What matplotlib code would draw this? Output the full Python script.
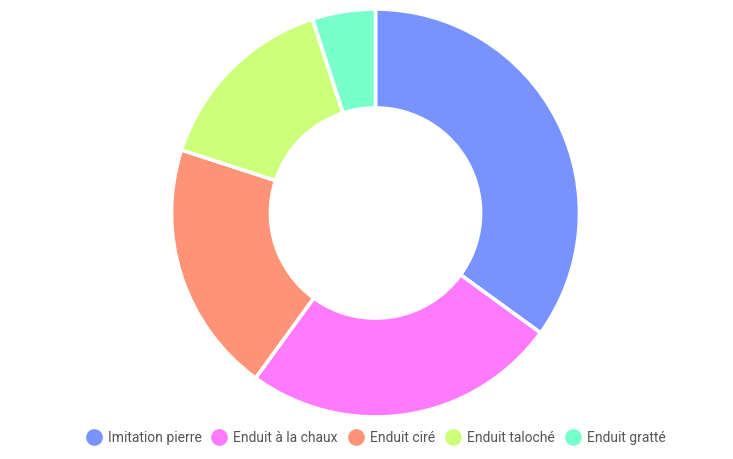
import matplotlib
matplotlib.use("Agg")
import matplotlib.pyplot as plt
from matplotlib.lines import Line2D

labels = ["Imitation pierre", "Enduit à la chaux", "Enduit ciré", "Enduit taloché", "Enduit gratté"]
values = [35, 25, 20, 15, 5]
colors = ["#7893ff", "#ff7aff", "#ff9377", "#ccff7a", "#79ffcc"]

W, H = 733, 459
fig = plt.figure(figsize=(W / 100, H / 100), dpi=100)
cx, cy, R = 375.5, 213, 204
ax = fig.add_axes([(cx - R) / W, (H - cy - R) / H, 2 * R / W, 2 * R / H])
ax.pie(values, colors=colors, startangle=90, counterclock=False, radius=1,
       wedgeprops=dict(width=0.485, edgecolor="white", linewidth=2.6))
ax.set_xlim(-1, 1)
ax.set_ylim(-1, 1)
ax.set_aspect("equal")
ax.axis("off")

handles = [Line2D([0], [0], marker="o", linestyle="none", markersize=11,
                  markerfacecolor=c, markeredgecolor=c) for c in colors]
fig.legend(handles, labels, loc="center", bbox_to_anchor=(376 / W, 1 - 438 / H),
           ncol=5, frameon=False, handlelength=1.0, handletextpad=0.5,
           columnspacing=0.8,
           prop=dict(family="Roboto", size=10), labelcolor="#555555")

fig.savefig("out.png", dpi=100)
